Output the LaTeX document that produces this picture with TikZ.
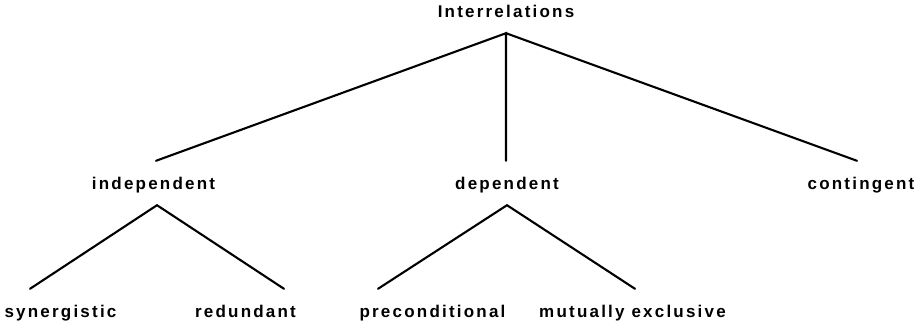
\documentclass[tikz,border=0pt]{standalone}
\usepackage{fontspec}
\setmainfont{Liberation Sans}
\newfontfamily\labelfont[LetterSpace=13]{Liberation Sans}
\begin{document}
\begin{tikzpicture}[x=1pt,y=-1pt,
  term/.style={font=\labelfont\bfseries\fontsize{17}{20}\selectfont, text=black,
    anchor=base, inner xsep=0pt, inner ysep=16pt,
    text height=12pt, text depth=0pt},
  branch/.style={draw=black, line width=2.1pt, line cap=round, line join=miter}]
  \useasboundingbox (0,0) rectangle (920,322);

  % root
  \node[term] (root) at (506,17) {Interrelations};

  % first level
  \node[term] (indep) at (153.5,189) {independent};
  \node[term] (dep)   at (507,189)   {dependent};
  \node[term] (cont)  at (861,189)   {contingent};

  % second level
  \node[term] (syn)  at (60.5,317)  {synergistic};
  \node[term] (red)  at (245.5,317) {redundant};
  \node[term] (pre)  at (432.5,317) {preconditional};
  \node[term] (mut)  at (632.5,317) {mutually exclusive};

  % branches from the root
  \draw[branch] ([xshift=2.5pt]indep.north) -- (root.south) -- (root.south |- dep.north);
  \draw[branch] (root.south) -- ([xshift=-4pt]cont.north);

  % branches under "independent"
  \draw[branch] ([xshift=-30.5pt]syn.north) -- ([xshift=3.5pt]indep.south) -- ([xshift=38.5pt]red.north);

  % branches under "dependent"
  \draw[branch] ([xshift=-54.5pt]pre.north) -- (dep.south) -- ([xshift=2.5pt]mut.north);
\end{tikzpicture}
\end{document}
